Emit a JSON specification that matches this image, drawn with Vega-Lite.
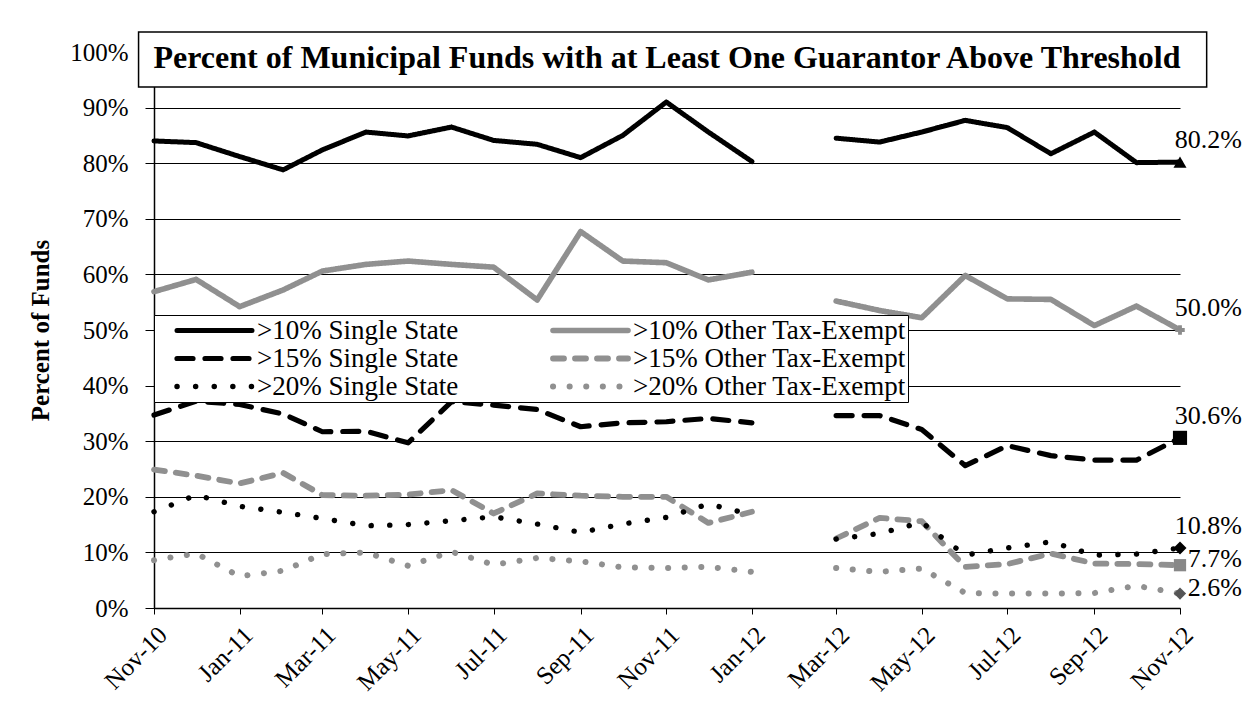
{
  "$schema": "https://vega.github.io/schema/vega-lite/v6.json",
  "autosize": "none",
  "width": 1026,
  "height": 556,
  "padding": {"left": 154, "top": 52, "right": 73, "bottom": 107},
  "background": "white",
  "config": {
    "font": "Liberation Serif",
    "view": {"stroke": null},
    "title": {"font": "Liberation Serif", "fontSize": 32, "fontWeight": "bold", "color": "black", "anchor": "middle", "offset": -44},
    "axis": {"labelFont": "Liberation Serif", "titleFont": "Liberation Serif", "labelColor": "black", "titleColor": "black"},
    "legend": {"labelFont": "Liberation Serif", "labelFontSize": 27, "labelColor": "black", "labelLimit": 400}
  },
  "title": "Percent of Municipal Funds with at Least One Guarantor Above Threshold",
  "data": {
    "format": {"parse": {"month": "date"}},
    "values": [
      {"month": "2010-11-01T00:00", "series": ">10% Single State", "value": 0.840},
      {"month": "2010-12-01T00:00", "series": ">10% Single State", "value": 0.837},
      {"month": "2011-01-01T00:00", "series": ">10% Single State", "value": 0.812},
      {"month": "2011-02-01T00:00", "series": ">10% Single State", "value": 0.788},
      {"month": "2011-03-01T00:00", "series": ">10% Single State", "value": 0.824},
      {"month": "2011-04-01T00:00", "series": ">10% Single State", "value": 0.856},
      {"month": "2011-05-01T00:00", "series": ">10% Single State", "value": 0.849},
      {"month": "2011-06-01T00:00", "series": ">10% Single State", "value": 0.865},
      {"month": "2011-07-01T00:00", "series": ">10% Single State", "value": 0.841},
      {"month": "2011-08-01T00:00", "series": ">10% Single State", "value": 0.834},
      {"month": "2011-09-01T00:00", "series": ">10% Single State", "value": 0.810},
      {"month": "2011-10-01T00:00", "series": ">10% Single State", "value": 0.850},
      {"month": "2011-11-01T00:00", "series": ">10% Single State", "value": 0.910},
      {"month": "2011-12-01T00:00", "series": ">10% Single State", "value": 0.856},
      {"month": "2012-01-01T00:00", "series": ">10% Single State", "value": 0.803},
      {"month": "2012-02-01T00:00", "series": ">10% Single State", "value": null},
      {"month": "2012-03-01T00:00", "series": ">10% Single State", "value": 0.845},
      {"month": "2012-04-01T00:00", "series": ">10% Single State", "value": 0.838},
      {"month": "2012-05-01T00:00", "series": ">10% Single State", "value": 0.856},
      {"month": "2012-06-01T00:00", "series": ">10% Single State", "value": 0.877},
      {"month": "2012-07-01T00:00", "series": ">10% Single State", "value": 0.864},
      {"month": "2012-08-01T00:00", "series": ">10% Single State", "value": 0.817},
      {"month": "2012-09-01T00:00", "series": ">10% Single State", "value": 0.856},
      {"month": "2012-10-01T00:00", "series": ">10% Single State", "value": 0.801},
      {"month": "2012-11-01T00:00", "series": ">10% Single State", "value": 0.802},

      {"month": "2010-11-01T00:00", "series": ">10% Other Tax-Exempt", "value": 0.569},
      {"month": "2010-12-01T00:00", "series": ">10% Other Tax-Exempt", "value": 0.591},
      {"month": "2011-01-01T00:00", "series": ">10% Other Tax-Exempt", "value": 0.542},
      {"month": "2011-02-01T00:00", "series": ">10% Other Tax-Exempt", "value": 0.572},
      {"month": "2011-03-01T00:00", "series": ">10% Other Tax-Exempt", "value": 0.606},
      {"month": "2011-04-01T00:00", "series": ">10% Other Tax-Exempt", "value": 0.618},
      {"month": "2011-05-01T00:00", "series": ">10% Other Tax-Exempt", "value": 0.624},
      {"month": "2011-06-01T00:00", "series": ">10% Other Tax-Exempt", "value": 0.618},
      {"month": "2011-07-01T00:00", "series": ">10% Other Tax-Exempt", "value": 0.613},
      {"month": "2011-08-01T00:00", "series": ">10% Other Tax-Exempt", "value": 0.554},
      {"month": "2011-09-01T00:00", "series": ">10% Other Tax-Exempt", "value": 0.677},
      {"month": "2011-10-01T00:00", "series": ">10% Other Tax-Exempt", "value": 0.624},
      {"month": "2011-11-01T00:00", "series": ">10% Other Tax-Exempt", "value": 0.621},
      {"month": "2011-12-01T00:00", "series": ">10% Other Tax-Exempt", "value": 0.590},
      {"month": "2012-01-01T00:00", "series": ">10% Other Tax-Exempt", "value": 0.604},
      {"month": "2012-02-01T00:00", "series": ">10% Other Tax-Exempt", "value": null},
      {"month": "2012-03-01T00:00", "series": ">10% Other Tax-Exempt", "value": 0.552},
      {"month": "2012-04-01T00:00", "series": ">10% Other Tax-Exempt", "value": 0.535},
      {"month": "2012-05-01T00:00", "series": ">10% Other Tax-Exempt", "value": 0.522},
      {"month": "2012-06-01T00:00", "series": ">10% Other Tax-Exempt", "value": 0.598},
      {"month": "2012-07-01T00:00", "series": ">10% Other Tax-Exempt", "value": 0.556},
      {"month": "2012-08-01T00:00", "series": ">10% Other Tax-Exempt", "value": 0.555},
      {"month": "2012-09-01T00:00", "series": ">10% Other Tax-Exempt", "value": 0.508},
      {"month": "2012-10-01T00:00", "series": ">10% Other Tax-Exempt", "value": 0.543},
      {"month": "2012-11-01T00:00", "series": ">10% Other Tax-Exempt", "value": 0.500},

      {"month": "2010-11-01T00:00", "series": ">15% Single State", "value": 0.347},
      {"month": "2010-12-01T00:00", "series": ">15% Single State", "value": 0.372},
      {"month": "2011-01-01T00:00", "series": ">15% Single State", "value": 0.366},
      {"month": "2011-02-01T00:00", "series": ">15% Single State", "value": 0.349},
      {"month": "2011-03-01T00:00", "series": ">15% Single State", "value": 0.317},
      {"month": "2011-04-01T00:00", "series": ">15% Single State", "value": 0.318},
      {"month": "2011-05-01T00:00", "series": ">15% Single State", "value": 0.297},
      {"month": "2011-06-01T00:00", "series": ">15% Single State", "value": 0.371},
      {"month": "2011-07-01T00:00", "series": ">15% Single State", "value": 0.365},
      {"month": "2011-08-01T00:00", "series": ">15% Single State", "value": 0.357},
      {"month": "2011-09-01T00:00", "series": ">15% Single State", "value": 0.326},
      {"month": "2011-10-01T00:00", "series": ">15% Single State", "value": 0.333},
      {"month": "2011-11-01T00:00", "series": ">15% Single State", "value": 0.335},
      {"month": "2011-12-01T00:00", "series": ">15% Single State", "value": 0.341},
      {"month": "2012-01-01T00:00", "series": ">15% Single State", "value": 0.333},
      {"month": "2012-02-01T00:00", "series": ">15% Single State", "value": null},
      {"month": "2012-03-01T00:00", "series": ">15% Single State", "value": 0.346},
      {"month": "2012-04-01T00:00", "series": ">15% Single State", "value": 0.346},
      {"month": "2012-05-01T00:00", "series": ">15% Single State", "value": 0.321},
      {"month": "2012-06-01T00:00", "series": ">15% Single State", "value": 0.256},
      {"month": "2012-07-01T00:00", "series": ">15% Single State", "value": 0.292},
      {"month": "2012-08-01T00:00", "series": ">15% Single State", "value": 0.274},
      {"month": "2012-09-01T00:00", "series": ">15% Single State", "value": 0.266},
      {"month": "2012-10-01T00:00", "series": ">15% Single State", "value": 0.266},
      {"month": "2012-11-01T00:00", "series": ">15% Single State", "value": 0.306},

      {"month": "2010-11-01T00:00", "series": ">15% Other Tax-Exempt", "value": 0.249},
      {"month": "2010-12-01T00:00", "series": ">15% Other Tax-Exempt", "value": 0.238},
      {"month": "2011-01-01T00:00", "series": ">15% Other Tax-Exempt", "value": 0.224},
      {"month": "2011-02-01T00:00", "series": ">15% Other Tax-Exempt", "value": 0.243},
      {"month": "2011-03-01T00:00", "series": ">15% Other Tax-Exempt", "value": 0.203},
      {"month": "2011-04-01T00:00", "series": ">15% Other Tax-Exempt", "value": 0.202},
      {"month": "2011-05-01T00:00", "series": ">15% Other Tax-Exempt", "value": 0.204},
      {"month": "2011-06-01T00:00", "series": ">15% Other Tax-Exempt", "value": 0.212},
      {"month": "2011-07-01T00:00", "series": ">15% Other Tax-Exempt", "value": 0.170},
      {"month": "2011-08-01T00:00", "series": ">15% Other Tax-Exempt", "value": 0.206},
      {"month": "2011-09-01T00:00", "series": ">15% Other Tax-Exempt", "value": 0.202},
      {"month": "2011-10-01T00:00", "series": ">15% Other Tax-Exempt", "value": 0.200},
      {"month": "2011-11-01T00:00", "series": ">15% Other Tax-Exempt", "value": 0.200},
      {"month": "2011-12-01T00:00", "series": ">15% Other Tax-Exempt", "value": 0.153},
      {"month": "2012-01-01T00:00", "series": ">15% Other Tax-Exempt", "value": 0.173},
      {"month": "2012-02-01T00:00", "series": ">15% Other Tax-Exempt", "value": null},
      {"month": "2012-03-01T00:00", "series": ">15% Other Tax-Exempt", "value": 0.125},
      {"month": "2012-04-01T00:00", "series": ">15% Other Tax-Exempt", "value": 0.162},
      {"month": "2012-05-01T00:00", "series": ">15% Other Tax-Exempt", "value": 0.156},
      {"month": "2012-06-01T00:00", "series": ">15% Other Tax-Exempt", "value": 0.074},
      {"month": "2012-07-01T00:00", "series": ">15% Other Tax-Exempt", "value": 0.079},
      {"month": "2012-08-01T00:00", "series": ">15% Other Tax-Exempt", "value": 0.098},
      {"month": "2012-09-01T00:00", "series": ">15% Other Tax-Exempt", "value": 0.080},
      {"month": "2012-10-01T00:00", "series": ">15% Other Tax-Exempt", "value": 0.079},
      {"month": "2012-11-01T00:00", "series": ">15% Other Tax-Exempt", "value": 0.077},

      {"month": "2010-11-01T00:00", "series": ">20% Single State", "value": 0.173},
      {"month": "2010-12-01T00:00", "series": ">20% Single State", "value": 0.203},
      {"month": "2011-01-01T00:00", "series": ">20% Single State", "value": 0.183},
      {"month": "2011-02-01T00:00", "series": ">20% Single State", "value": 0.172},
      {"month": "2011-03-01T00:00", "series": ">20% Single State", "value": 0.161},
      {"month": "2011-04-01T00:00", "series": ">20% Single State", "value": 0.148},
      {"month": "2011-05-01T00:00", "series": ">20% Single State", "value": 0.150},
      {"month": "2011-06-01T00:00", "series": ">20% Single State", "value": 0.157},
      {"month": "2011-07-01T00:00", "series": ">20% Single State", "value": 0.164},
      {"month": "2011-08-01T00:00", "series": ">20% Single State", "value": 0.151},
      {"month": "2011-09-01T00:00", "series": ">20% Single State", "value": 0.136},
      {"month": "2011-10-01T00:00", "series": ">20% Single State", "value": 0.151},
      {"month": "2011-11-01T00:00", "series": ">20% Single State", "value": 0.163},
      {"month": "2011-12-01T00:00", "series": ">20% Single State", "value": 0.187},
      {"month": "2012-01-01T00:00", "series": ">20% Single State", "value": 0.168},
      {"month": "2012-02-01T00:00", "series": ">20% Single State", "value": null},
      {"month": "2012-03-01T00:00", "series": ">20% Single State", "value": 0.124},
      {"month": "2012-04-01T00:00", "series": ">20% Single State", "value": 0.134},
      {"month": "2012-05-01T00:00", "series": ">20% Single State", "value": 0.154},
      {"month": "2012-06-01T00:00", "series": ">20% Single State", "value": 0.095},
      {"month": "2012-07-01T00:00", "series": ">20% Single State", "value": 0.108},
      {"month": "2012-08-01T00:00", "series": ">20% Single State", "value": 0.119},
      {"month": "2012-09-01T00:00", "series": ">20% Single State", "value": 0.095},
      {"month": "2012-10-01T00:00", "series": ">20% Single State", "value": 0.097},
      {"month": "2012-11-01T00:00", "series": ">20% Single State", "value": 0.108},

      {"month": "2010-11-01T00:00", "series": ">20% Other Tax-Exempt", "value": 0.086},
      {"month": "2010-12-01T00:00", "series": ">20% Other Tax-Exempt", "value": 0.098},
      {"month": "2011-01-01T00:00", "series": ">20% Other Tax-Exempt", "value": 0.057},
      {"month": "2011-02-01T00:00", "series": ">20% Other Tax-Exempt", "value": 0.067},
      {"month": "2011-03-01T00:00", "series": ">20% Other Tax-Exempt", "value": 0.097},
      {"month": "2011-04-01T00:00", "series": ">20% Other Tax-Exempt", "value": 0.100},
      {"month": "2011-05-01T00:00", "series": ">20% Other Tax-Exempt", "value": 0.076},
      {"month": "2011-06-01T00:00", "series": ">20% Other Tax-Exempt", "value": 0.101},
      {"month": "2011-07-01T00:00", "series": ">20% Other Tax-Exempt", "value": 0.078},
      {"month": "2011-08-01T00:00", "series": ">20% Other Tax-Exempt", "value": 0.090},
      {"month": "2011-09-01T00:00", "series": ">20% Other Tax-Exempt", "value": 0.084},
      {"month": "2011-10-01T00:00", "series": ">20% Other Tax-Exempt", "value": 0.073},
      {"month": "2011-11-01T00:00", "series": ">20% Other Tax-Exempt", "value": 0.072},
      {"month": "2011-12-01T00:00", "series": ">20% Other Tax-Exempt", "value": 0.074},
      {"month": "2012-01-01T00:00", "series": ">20% Other Tax-Exempt", "value": 0.065},
      {"month": "2012-02-01T00:00", "series": ">20% Other Tax-Exempt", "value": null},
      {"month": "2012-03-01T00:00", "series": ">20% Other Tax-Exempt", "value": 0.072},
      {"month": "2012-04-01T00:00", "series": ">20% Other Tax-Exempt", "value": 0.065},
      {"month": "2012-05-01T00:00", "series": ">20% Other Tax-Exempt", "value": 0.071},
      {"month": "2012-06-01T00:00", "series": ">20% Other Tax-Exempt", "value": 0.027},
      {"month": "2012-07-01T00:00", "series": ">20% Other Tax-Exempt", "value": 0.026},
      {"month": "2012-08-01T00:00", "series": ">20% Other Tax-Exempt", "value": 0.026},
      {"month": "2012-09-01T00:00", "series": ">20% Other Tax-Exempt", "value": 0.027},
      {"month": "2012-10-01T00:00", "series": ">20% Other Tax-Exempt", "value": 0.040},
      {"month": "2012-11-01T00:00", "series": ">20% Other Tax-Exempt", "value": 0.026}
    ]
  },
  "layer": [
    {
      "data": {"values": [{}]},
      "mark": {"type": "rect", "fill": "white", "stroke": "black", "strokeWidth": 1.5},
      "encoding": {
        "x": {"datum": {"year": 2010, "month": 10, "date": 21}, "type": "temporal"},
        "x2": {"datum": {"year": 2012, "month": 11, "date": 20}},
        "y": {"datum": 1.036, "type": "quantitative"},
        "y2": {"datum": 0.937}
      }
    },
    {
      "mark": {"type": "line", "strokeCap": "round", "strokeJoin": "round", "invalid": "break-paths-show-domains"},
      "encoding": {
        "x": {
          "field": "month", "type": "temporal",
          "scale": {"domain": [{"year": 2010, "month": 11, "date": 1}, {"year": 2012, "month": 11, "date": 1}], "nice": false},
          "axis": {"title": null, "format": "%b-%y", "tickCount": {"interval": "month", "step": 2}, "labelAngle": -45, "labelFontSize": 25, "labelPadding": 8, "tickColor": "black", "tickSize": 6, "domainColor": "black", "domainWidth": 1.5, "grid": false, "labelOverlap": false, "labelFlush": false}
        },
        "y": {
          "field": "value", "type": "quantitative",
          "scale": {"domain": [0, 1], "nice": false},
          "axis": {"title": "Percent of Funds", "values": [0, 0.1, 0.2, 0.3, 0.4, 0.5, 0.6, 0.7, 0.8, 0.9, 1], "format": ".0%", "labelFontSize": 25, "labelPadding": 17, "tickSize": 9, "tickColor": "black", "domainColor": "black", "domainWidth": 1.5, "grid": true, "gridColor": "black", "gridWidth": 1, "titleFontSize": 25, "titleFontWeight": "bold", "titlePadding": 16}
        },
        "color": {
          "field": "series", "type": "nominal",
          "scale": {"domain": [">10% Single State", ">15% Single State", ">20% Single State", ">10% Other Tax-Exempt", ">15% Other Tax-Exempt", ">20% Other Tax-Exempt"], "range": ["#000000", "#000000", "#000000", "#909090", "#909090", "#909090"]},
          "legend": {"title": null, "orient": "none", "legendX": 0, "legendY": 263, "columns": 2, "fillColor": "white", "strokeColor": "black", "padding": 2, "rowPadding": 0, "columnPadding": 73, "clipHeight": 27, "symbolType": "stroke", "symbolSize": 5625, "symbolOffset": 18, "labelOffset": 2, "labelFont": "Liberation Serif", "labelFontSize": 27, "labelColor": "black", "labelLimit": 400, "encode": {"symbols": {"update": {"strokeCap": {"value": "round"}}}}}
        },
        "strokeDash": {
          "field": "series", "type": "nominal",
          "scale": {"domain": [">10% Single State", ">15% Single State", ">20% Single State", ">10% Other Tax-Exempt", ">15% Other Tax-Exempt", ">20% Other Tax-Exempt"], "range": [[1, 0], [16, 12], [0.1, 18.5], [1, 0], [11, 11], [0.1, 16.5]]},
          "legend": {"title": null, "orient": "none", "legendX": 0, "legendY": 263, "columns": 2, "fillColor": "white", "strokeColor": "black", "padding": 2, "rowPadding": 0, "columnPadding": 73, "clipHeight": 27, "symbolType": "stroke", "symbolSize": 5625, "symbolOffset": 18, "labelOffset": 2, "labelFont": "Liberation Serif", "labelFontSize": 27, "labelColor": "black", "labelLimit": 400, "encode": {"symbols": {"update": {"strokeCap": {"value": "round"}}}}}
        },
        "strokeWidth": {
          "field": "series", "type": "nominal",
          "scale": {"domain": [">10% Single State", ">15% Single State", ">20% Single State", ">10% Other Tax-Exempt", ">15% Other Tax-Exempt", ">20% Other Tax-Exempt"], "range": [5, 6, 8.5, 5, 4.5, 6.5]},
          "legend": {"title": null, "orient": "none", "legendX": 0, "legendY": 263, "columns": 2, "fillColor": "white", "strokeColor": "black", "padding": 2, "rowPadding": 0, "columnPadding": 73, "clipHeight": 27, "symbolType": "stroke", "symbolSize": 5625, "symbolOffset": 18, "labelOffset": 2, "labelFont": "Liberation Serif", "labelFontSize": 27, "labelColor": "black", "labelLimit": 400, "encode": {"symbols": {"update": {"strokeCap": {"value": "round"}}}}}
        }
      }
    },
    {
      "transform": [{"filter": {"field": "month", "timeUnit": "yearmonth", "equal": {"year": 2012, "month": 11}}}, {"filter": {"field": "series", "equal": ">10% Single State"}}],
      "mark": {"type": "point", "shape": "triangle-up", "filled": true, "color": "black", "opacity": 1, "size": 170},
      "encoding": {"x": {"field": "month", "type": "temporal"}, "y": {"field": "value", "type": "quantitative"}}
    },
    {
      "transform": [{"filter": {"field": "month", "timeUnit": "yearmonth", "equal": {"year": 2012, "month": 11}}}, {"filter": {"field": "series", "equal": ">10% Other Tax-Exempt"}}],
      "mark": {"type": "point", "shape": "cross", "filled": true, "color": "#8c8c8c", "opacity": 1, "size": 90},
      "encoding": {"x": {"field": "month", "type": "temporal"}, "y": {"field": "value", "type": "quantitative"}}
    },
    {
      "transform": [{"filter": {"field": "month", "timeUnit": "yearmonth", "equal": {"year": 2012, "month": 11}}}, {"filter": {"field": "series", "equal": ">15% Single State"}}],
      "mark": {"type": "point", "shape": "square", "filled": true, "color": "black", "opacity": 1, "size": 200},
      "encoding": {"x": {"field": "month", "type": "temporal"}, "y": {"field": "value", "type": "quantitative"}}
    },
    {
      "transform": [{"filter": {"field": "month", "timeUnit": "yearmonth", "equal": {"year": 2012, "month": 11}}}, {"filter": {"field": "series", "equal": ">15% Other Tax-Exempt"}}],
      "mark": {"type": "point", "shape": "square", "filled": true, "color": "#888888", "opacity": 1, "size": 150},
      "encoding": {"x": {"field": "month", "type": "temporal"}, "y": {"field": "value", "type": "quantitative"}}
    },
    {
      "transform": [{"filter": {"field": "month", "timeUnit": "yearmonth", "equal": {"year": 2012, "month": 11}}}, {"filter": {"field": "series", "equal": ">20% Single State"}}],
      "mark": {"type": "point", "shape": "diamond", "filled": true, "color": "black", "opacity": 1, "size": 170},
      "encoding": {"x": {"field": "month", "type": "temporal"}, "y": {"field": "value", "type": "quantitative"}}
    },
    {
      "transform": [{"filter": {"field": "month", "timeUnit": "yearmonth", "equal": {"year": 2012, "month": 11}}}, {"filter": {"field": "series", "equal": ">20% Other Tax-Exempt"}}],
      "mark": {"type": "point", "shape": "diamond", "filled": true, "color": "#555555", "opacity": 1, "size": 150},
      "encoding": {"x": {"field": "month", "type": "temporal"}, "y": {"field": "value", "type": "quantitative"}}
    },
    {
      "transform": [
        {"filter": {"field": "month", "timeUnit": "yearmonth", "equal": {"year": 2012, "month": 11}}},
        {"filter": {"field": "series", "oneOf": [">10% Single State", ">10% Other Tax-Exempt", ">15% Single State", ">20% Single State"]}}
      ],
      "mark": {"type": "text", "align": "right", "baseline": "middle", "dx": 62, "dy": -22, "fontSize": 26, "font": "Liberation Serif", "color": "black"},
      "encoding": {
        "x": {"field": "month", "type": "temporal"},
        "y": {"field": "value", "type": "quantitative"},
        "text": {"field": "value", "type": "quantitative", "format": ".1%"}
      }
    },
    {
      "transform": [
        {"filter": {"field": "month", "timeUnit": "yearmonth", "equal": {"year": 2012, "month": 11}}},
        {"filter": {"field": "series", "oneOf": [">15% Other Tax-Exempt", ">20% Other Tax-Exempt"]}}
      ],
      "mark": {"type": "text", "align": "right", "baseline": "middle", "dx": 62, "dy": -6, "fontSize": 26, "font": "Liberation Serif", "color": "black"},
      "encoding": {
        "x": {"field": "month", "type": "temporal"},
        "y": {"field": "value", "type": "quantitative"},
        "text": {"field": "value", "type": "quantitative", "format": ".1%"}
      }
    }
  ]
}
